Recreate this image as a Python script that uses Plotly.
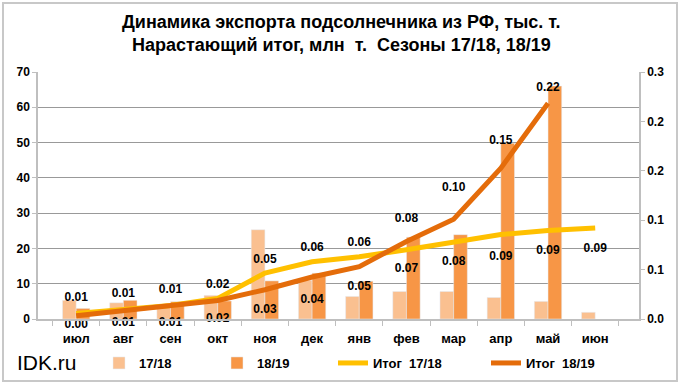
import plotly.graph_objects as go

months = ["июл", "авг", "сен", "окт", "ноя", "дек", "янв", "фев", "мар", "апр", "май", "июн"]
# monthly export, thousand tonnes
exp_1718 = [5.3, 4.6, 3.5, 6.7, 25.3, 11.0, 6.4, 7.8, 7.8, 6.1, 5.0, 1.9]
exp_1819 = [3.0, 5.3, 4.9, 5.1, 10.8, 13.0, 10.7, 23.2, 23.9, 49.8, 66.0, None]
# cumulative total, million tonnes
total_1718 = [0.0055, 0.0095, 0.0137, 0.0208, 0.0465, 0.058, 0.063, 0.070, 0.078, 0.0855, 0.0896, 0.092]
total_1819 = [0.0034, 0.0087, 0.0134, 0.0188, 0.0296, 0.0425, 0.053, 0.0785, 0.101, 0.1527, 0.2184, None]

right_vals = [0, 0.05, 0.10, 0.15, 0.20, 0.25]
right_text = ["0.0", "0.1", "0.1", "0.2", "0.2", "0.3"]

title_lines = ["Динамика экспорта подсолнечника из РФ, тыс. т.",
               "Нарастающий итог, млн\u00a0 т.\u00a0 Сезоны 17/18, 18/19"]

# label placement styling (position + spacing of data labels from the lines)
pos_1718 = ["top center"] * 7 + ["bottom center"] * 5
pos_1819 = ["bottom center"] * 7 + ["top center"] * 5
gap_1718 = [13, 14, 13, 11, 10, 11, 11, 19, 21, 24, 22, 22]
gap_1819 = [3, 9, 16, 18, 21, 26, 21, 24, 38, 32, 13, 16]

FONT = "Liberation Sans, Arial, sans-serif"
L, R, T, B = 38, 43, 72, 70
W, H = 682, 389
PW, PH = W - L - R, H - T - B


def px_x(px):
    return (px - L) / PW


def px_y(py):
    return (H - B - py) / PH


label_font = dict(family=FONT, size=12, color="black", weight="bold")


def hidden_marker(sizes):
    return dict(size=sizes, color="rgba(0,0,0,0)", opacity=0, line=dict(width=0))


fig = go.Figure()
fig.add_trace(go.Bar(x=months, y=exp_1718, name="17/18", marker_color="#FAC090",
                     legend="legend"))
fig.add_trace(go.Bar(x=months, y=exp_1819, name="18/19", marker_color="#F79646",
                     legend="legend2"))
fig.add_trace(go.Scatter(x=months, y=total_1718, name="Итог\u00a0 17/18", yaxis="y2",
                         mode="lines+markers+text", line=dict(color="#FFC000", width=5),
                         marker=hidden_marker(gap_1718),
                         texttemplate="%{y:.2f}", textposition=pos_1718,
                         textfont=label_font, cliponaxis=False, legend="legend3"))
fig.add_trace(go.Scatter(x=months, y=total_1819, name="Итог\u00a0 18/19", yaxis="y2",
                         mode="lines+markers+text", line=dict(color="#E46C0A", width=5),
                         marker=hidden_marker(gap_1819),
                         texttemplate="%{y:.2f}", textposition=pos_1819,
                         textfont=label_font, cliponaxis=False, legend="legend4"))

axis_font = dict(family=FONT, size=12, color="black", weight="bold")
xaxis_font = dict(family=FONT, size=13, color="black", weight="bold")
leg_common = dict(orientation="h", yanchor="middle", xanchor="left", y=px_y(363),
                  bgcolor="rgba(0,0,0,0)",
                  font=dict(family=FONT, size=13, color="black", weight="bold"))

annotations = [
    dict(text="<b>%s</b>" % title_lines[0], xref="paper", yref="paper", x=px_x(341), y=px_y(22),
         xanchor="center", yanchor="middle", showarrow=False,
         font=dict(family=FONT, size=18, color="black")),
    dict(text="<b>%s</b>" % title_lines[1], xref="paper", yref="paper", x=px_x(341), y=px_y(45),
         xanchor="center", yanchor="middle", showarrow=False,
         font=dict(family=FONT, size=18, color="black")),
    dict(text="IDK.ru", xref="paper", yref="paper", x=px_x(15), y=px_y(362),
         xanchor="left", yanchor="middle", showarrow=False,
         font=dict(family=FONT, size=21, color="black")),
]

fig.update_layout(
    width=W, height=H,
    margin=dict(l=L, r=R, t=T, b=B, autoexpand=False),
    paper_bgcolor="white", plot_bgcolor="white",
    font=dict(family=FONT, color="black"),
    barmode="group", bargap=0.42, bargroupgap=0,
    showlegend=True,
    xaxis=dict(showline=True, linecolor="#BFBFBF", linewidth=1.5, ticks="outside",
               tickson="boundaries", ticklen=5, tickcolor="#BFBFBF", tickfont=xaxis_font,
               ticklabelstandoff=7, showgrid=False),
    yaxis=dict(range=[0, 70], dtick=10, showgrid=True, gridcolor="#999999", gridwidth=1,
               zeroline=False, showline=True, linecolor="#BFBFBF", linewidth=1.5,
               ticks="outside", ticklen=4, tickcolor="#BFBFBF", tickfont=axis_font),
    yaxis2=dict(overlaying="y", side="right", range=[0, 0.25], tickvals=right_vals,
                ticktext=right_text, showgrid=False, zeroline=False, showline=True,
                linecolor="#BFBFBF", linewidth=1.5, ticks="outside", ticklen=4,
                tickcolor="#BFBFBF", tickfont=axis_font),
    legend=dict(x=px_x(99), **leg_common),
    legend2=dict(x=px_x(217), **leg_common),
    legend3=dict(x=px_x(333), **leg_common),
    legend4=dict(x=px_x(486), **leg_common),
    annotations=annotations,
    shapes=[dict(type="rect", xref="paper", yref="paper",
                 x0=px_x(3), x1=px_x(677), y0=px_y(381), y1=px_y(3),
                 line=dict(color="#C8C8C8", width=2), fillcolor="rgba(0,0,0,0)",
                 layer="below")],
)

fig.write_html("out.html", config={"displayModeBar": False},
               post_script="document.body.style.margin='0';")
